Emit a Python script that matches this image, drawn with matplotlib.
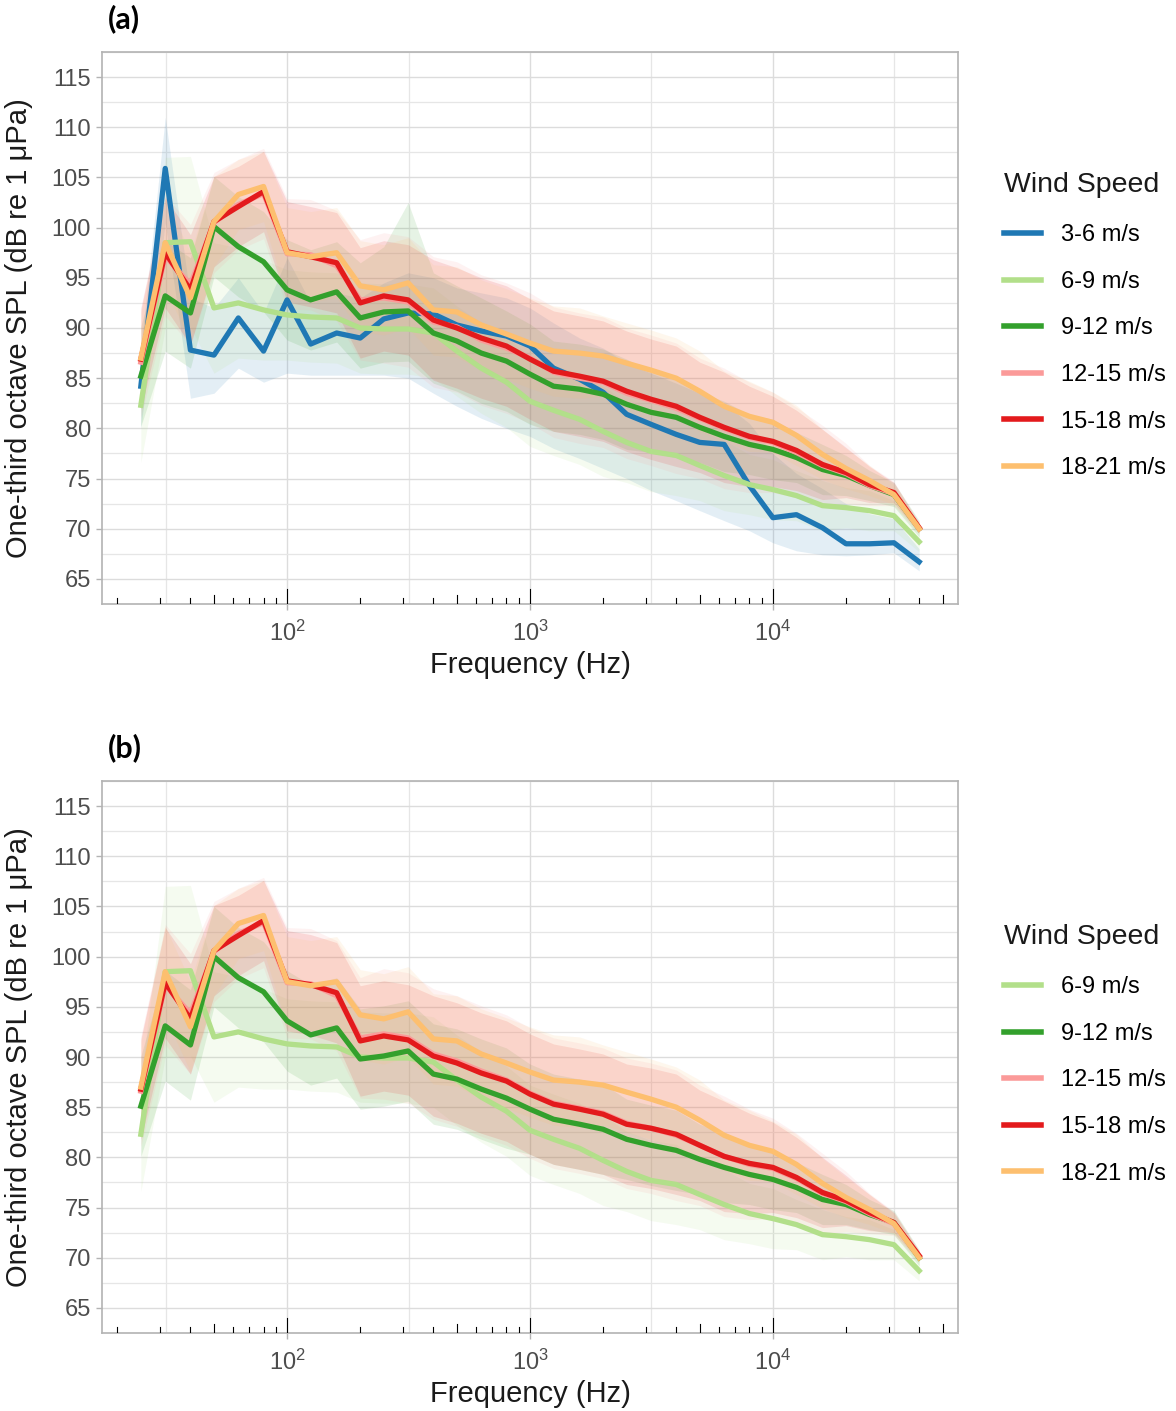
import numpy as np
import matplotlib.pyplot as plt
from matplotlib import transforms

plt.rcParams['font.family'] = ['Liberation Sans', 'DejaVu Sans']
plt.rcParams['mathtext.fontset'] = 'custom'
plt.rcParams['mathtext.rm'] = 'Liberation Sans'

# one-third octave band centres (Hz)
freq = [25, 31.5, 40, 50, 63, 80, 100, 125, 160, 200, 250, 315, 400, 500, 630, 800,
        1000, 1250, 1600, 2000, 2500, 3150, 4000, 5000, 6300, 8000, 10000, 12500,
        16000, 20000, 25000, 31500, 40000]

labels = ['3-6 m/s', '6-9 m/s', '9-12 m/s', '12-15 m/s', '15-18 m/s', '18-21 m/s']
colors = ['#1F78B4', '#B2DF8A', '#33A02C', '#FB9A99', '#E31A1C', '#FDBF6F']

# ---- panel (a) lines
spl_3_6 = [84.2, 105.9, 87.8, 87.3, 91.0, 87.7, 92.8, 88.4, 89.5, 89.0, 90.9, 91.5, 91.4, 90.3,
           89.7, 89.2, 88.2, 86.0, 84.9, 83.6, 81.4, 80.4, 79.4, 78.6, 78.4, 74.3, 71.1, 71.4,
           70.1, 68.5, 68.5, 68.6, 66.7]
spl_6_9 = [82.3, 98.5, 98.6, 92.0, 92.5, 91.8, 91.3, 91.1, 91.0, 90.0, 89.9, 89.9, 89.5, 87.7,
           86.0, 84.6, 82.7, 81.8, 80.9, 79.7, 78.6, 77.7, 77.3, 76.3, 75.3, 74.4, 73.9, 73.3,
           72.3, 72.1, 71.8, 71.3, 68.7]
spl_9_12_a = [85.2, 93.2, 91.5, 100.1, 98.1, 96.6, 93.8, 92.8, 93.6, 91.0, 91.6, 91.7, 89.5, 88.7,
              87.5, 86.7, 85.4, 84.2, 83.9, 83.4, 82.4, 81.6, 81.1, 80.1, 79.2, 78.4, 77.9, 77.1,
              75.9, 75.3, 74.3, 73.4, 70.0]
spl_12_15_a = [86.6, 97.2, 94.3, 100.5, 102.3, 103.4, 97.4, 97.3, 96.2, 92.8, 93.0, 92.6, 90.6, 90.1,
               88.8, 88.0, 87.0, 85.6, 85.0, 84.6, 83.5, 82.8, 82.0, 81.0, 80.0, 79.1, 78.6, 77.6,
               76.3, 75.5, 74.3, 73.5, 70.0]
spl_15_18_a = [86.9, 97.5, 93.8, 100.6, 102.1, 103.6, 97.6, 97.1, 96.5, 92.5, 93.2, 92.8, 90.8, 90.0,
               89.0, 88.2, 86.9, 85.7, 85.2, 84.7, 83.7, 82.9, 82.2, 81.1, 80.1, 79.2, 78.7, 77.8,
               76.4, 75.6, 74.4, 73.6, 70.1]
spl_18_21 = [87.0, 98.5, 93.0, 100.6, 103.3, 104.1, 97.5, 97.1, 97.5, 94.2, 93.8, 94.5, 91.8, 91.6,
             90.3, 89.4, 88.5, 87.7, 87.5, 87.2, 86.5, 85.8, 85.0, 83.7, 82.2, 81.2, 80.6, 79.3,
             77.4, 76.0, 74.8, 73.4, 70.0]

# ---- panel (b) lines that differ from (a)
spl_9_12_b = [85.1, 93.1, 91.2, 100.0, 97.9, 96.5, 93.6, 92.2, 92.9, 89.8, 90.1, 90.6, 88.3, 87.8,
              86.8, 85.9, 84.8, 83.8, 83.3, 82.8, 81.8, 81.2, 80.7, 79.8, 79.0, 78.3, 77.8, 77.0,
              75.8, 75.3, 74.3, 73.5, 70.0]
spl_12_15_b = [86.6, 97.2, 94.3, 100.5, 102.3, 103.4, 97.4, 97.3, 96.1, 91.9, 92.3, 91.9, 90.3, 89.6,
               88.6, 87.7, 86.4, 85.4, 84.9, 84.4, 83.4, 82.9, 82.2, 81.2, 80.1, 79.3, 78.9, 77.9,
               76.4, 75.6, 74.4, 73.4, 70.1]
spl_15_18_b = [86.8, 97.4, 93.8, 100.6, 102.1, 103.6, 97.6, 97.2, 96.4, 91.6, 92.1, 91.7, 90.1, 89.4,
               88.4, 87.6, 86.3, 85.3, 84.8, 84.3, 83.3, 82.9, 82.3, 81.2, 80.1, 79.4, 79.0, 78.0,
               76.5, 75.7, 74.5, 73.5, 70.2]

# ---- ribbon bounds / half-widths (dB)
lo_3_6 = [80.0, 100.5, 83.0, 83.5, 86.0, 84.6, 85.5, 85.3, 85.3, 85.3, 85.3, 85.0, 83.5, 82.2,
          81.0, 80.0, 79.2, 78.0, 77.0, 76.0, 75.0, 73.8, 72.8, 71.8, 70.8, 69.8, 68.6, 67.8,
          67.4, 67.3, 67.4, 67.6, 65.8]
hi_3_6 = [88.0, 111.0, 93.0, 92.0, 95.0, 91.5, 97.0, 92.5, 93.5, 93.0, 94.5, 95.5, 95.0, 94.0,
          93.5, 93.0, 92.0, 90.5, 89.0, 88.0, 86.5, 85.5, 84.5, 83.5, 82.5, 80.5, 77.5, 75.5,
          74.0, 72.5, 71.5, 71.0, 68.0]
sd_6_9 = [5.7, 8.5, 8.5, 6.5, 5.5, 5.0, 4.5, 4.5, 4.5, 4.5, 4.5, 4.5, 4.5, 4.5, 4.5, 4.5, 4.5,
          4.5, 4.5, 4.5, 4.0, 4.0, 4.0, 3.5, 3.5, 3.0, 3.0, 2.5, 2.5, 2.0, 2.0, 1.5, 1.0]
sd_9_12_a_lo = [5.0, 5.5, 5.5, 5.0, 5.0, 5.0, 5.0, 5.0, 5.0, 5.0, 5.0, 5.0, 5.0, 5.0, 5.0, 5.0, 5.0,
                4.5, 4.5, 4.5, 4.5, 4.0, 4.0, 3.5, 3.5, 3.0, 3.0, 2.5, 2.5, 2.0, 1.5, 1.2, 0.8]
sd_9_12_a_hi = [5.0, 5.5, 5.5, 5.0, 5.0, 5.0, 5.0, 5.0, 5.0, 5.5, 6.5, 10.8, 6.0, 5.5, 5.5, 5.0, 5.0,
                4.5, 4.5, 4.5, 4.5, 4.0, 4.0, 3.5, 3.5, 3.0, 3.0, 2.5, 2.5, 2.0, 1.5, 1.2, 0.8]
sd_9_12_b = [5.0, 5.5, 5.5, 5.0, 5.0, 5.0, 5.0, 5.0, 5.0, 5.0, 5.0, 5.0, 5.0, 5.0, 5.0, 5.0, 4.5,
             4.5, 4.5, 4.5, 4.0, 4.0, 4.0, 3.5, 3.5, 3.0, 3.0, 2.5, 2.5, 2.0, 1.5, 1.2, 0.8]
sd_12_15 = [5.5, 6.0, 6.0, 5.0, 4.5, 4.5, 5.5, 5.5, 5.5, 6.0, 6.5, 6.5, 6.5, 6.5, 6.5, 6.5, 6.5,
            6.5, 6.5, 6.5, 6.5, 6.5, 6.5, 6.0, 6.0, 5.5, 5.0, 4.5, 4.0, 3.0, 2.0, 1.2, 0.5]
sd_15_18 = [5.0, 5.5, 5.5, 4.5, 4.0, 4.0, 5.0, 5.0, 5.0, 5.5, 5.5, 5.5, 6.0, 6.0, 6.0, 6.0, 6.0,
            6.0, 6.0, 6.0, 6.0, 6.0, 6.0, 5.5, 5.5, 5.0, 4.5, 4.0, 3.5, 2.5, 1.8, 1.0, 0.5]
sd_18_21 = [4.5, 4.5, 4.5, 4.5, 3.5, 3.5, 4.5, 4.5, 4.5, 4.5, 4.5, 4.5, 4.5, 4.5, 4.5, 4.5, 4.5,
            4.5, 4.5, 4.0, 4.0, 4.0, 4.0, 4.0, 3.5, 3.5, 3.0, 3.0, 2.5, 2.0, 1.5, 1.0, 0.5]


def band(y, sd_lo, sd_hi=None):
    y = np.array(y)
    sd_lo = np.array(sd_lo)
    sd_hi = sd_lo if sd_hi is None else np.array(sd_hi)
    return y - sd_lo, y + sd_hi


series_a = [
    (spl_3_6, np.array(lo_3_6), np.array(hi_3_6)),
    (spl_6_9,) + band(spl_6_9, sd_6_9),
    (spl_9_12_a,) + band(spl_9_12_a, sd_9_12_a_lo, sd_9_12_a_hi),
    (spl_12_15_a,) + band(spl_12_15_a, sd_12_15),
    (spl_15_18_a,) + band(spl_15_18_a, sd_15_18),
    (spl_18_21,) + band(spl_18_21, sd_18_21),
]
series_b = [
    None,
    (spl_6_9,) + band(spl_6_9, sd_6_9),
    (spl_9_12_b,) + band(spl_9_12_b, sd_9_12_b),
    (spl_12_15_b,) + band(spl_12_15_b, sd_12_15),
    (spl_15_18_b,) + band(spl_15_18_b, sd_15_18),
    (spl_18_21,) + band(spl_18_21, sd_18_21),
]

W, H = 1176, 1411
fig = plt.figure(figsize=(W / 100, H / 100), dpi=100)


def draw_panel(top_px, series, letter, legend_top_px):
    ax = fig.add_axes([102 / W, 1 - (top_px + 552) / H, 856 / W, 552 / H])
    ax.set_xscale('log')
    ax.set_xlim(10 ** 1.238, 10 ** 4.762)
    ax.set_ylim(62.5, 117.5)

    for s, c in zip(series, colors):
        if s is None:
            continue
        ax.fill_between(freq, s[1], s[2], color=c, alpha=0.12, lw=0, zorder=2)
    handles = []
    for s, c, lab in zip(series, colors, labels):
        if s is None:
            continue
        h, = ax.plot(freq, s[0], color=c, lw=3.8, label=lab, zorder=3,
                     solid_joinstyle='round')
        handles.append(h)

    # grid / ticks
    ax.set_xticks([100, 1000, 10000])
    ax.set_xticks([10 ** 1.5, 10 ** 2.5, 10 ** 3.5, 10 ** 4.5], minor=True)
    ax.set_yticks(np.arange(65, 116, 5))
    ax.set_yticks(np.arange(62.5, 117.6, 5), minor=True)
    ax.grid(True, which='major', color='#DCDCDC', lw=1.0, zorder=0)
    ax.grid(True, which='minor', color='#E6E6E6', lw=0.9, zorder=0)
    ax.set_axisbelow(True)
    ax.tick_params(which='minor', length=0)
    ax.tick_params(which='major', length=4, width=1, color='#B3B3B3',
                   labelsize=17, labelcolor='#4D4D4D', pad=4)
    ax.tick_params(axis='x', which='major', pad=8)
    for sp in ax.spines.values():
        sp.set_color('#B3B3B3')
        sp.set_linewidth(1.2)

    # log ticks along the bottom edge
    tr = transforms.blended_transform_factory(ax.transData, ax.transAxes)
    x0, x1 = ax.get_xlim()
    for n in range(1, 5):
        for k in range(1, 10):
            f = k * 10 ** n
            if f < x0 or f > x1:
                continue
            L = 0.027 if k == 1 else (0.017 if k == 5 else 0.010)
            ax.plot([f, f], [0, L], transform=tr, color='black', lw=0.8, zorder=4)

    ax.set_xlabel('Frequency (Hz)', fontsize=21, color='#1A1A1A', labelpad=4)
    ax.set_ylabel('One-third octave SPL (dB re 1 μPa)', fontsize=21, color='#1A1A1A')
    ax.yaxis.set_label_coords(-69 / 856, 0.5)

    fig.text(108 / W, 1 - (top_px - 33) / H, letter, fontsize=22, fontweight='bold',
             family=['Lato', 'DejaVu Sans'], va='center', ha='left')

    leg = ax.legend(handles=handles, title='Wind Speed', loc='upper left',
                    bbox_to_anchor=(1004 / W, 1 - legend_top_px / H),
                    bbox_transform=fig.transFigure, frameon=False, fontsize=17,
                    title_fontsize=20.5, handlelength=1.55, handletextpad=0.85,
                    labelspacing=1.04, borderaxespad=0, borderpad=0, alignment='left')
    for line in leg.get_lines():
        line.set_linewidth(4)
    leg.get_title().set_color('#1A1A1A')
    leg._legend_box.sep = 19
    return ax


draw_panel(52, series_a, '(a)', 172)
draw_panel(781, series_b, '(b)', 924)

fig.savefig('out.png', dpi=100)
